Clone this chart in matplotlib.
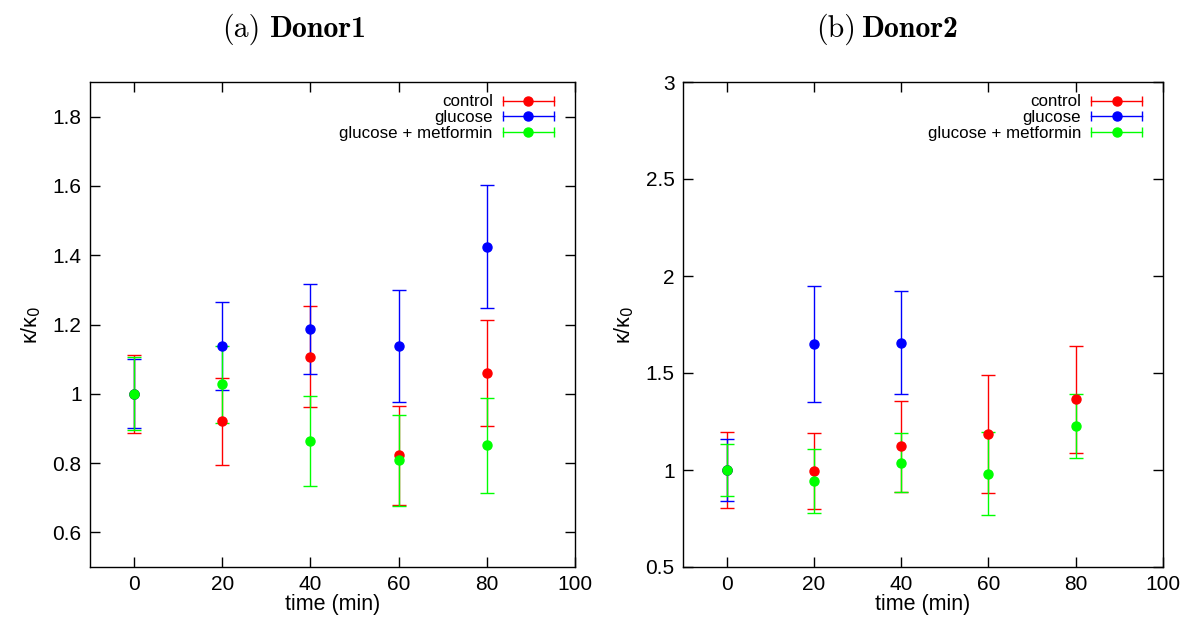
import matplotlib
matplotlib.use("Agg")
import matplotlib.pyplot as plt
from matplotlib.lines import Line2D
from matplotlib.legend_handler import HandlerBase

plt.rcParams['font.family'] = ['Liberation Sans', 'DejaVu Sans']

time = [0, 20, 40, 60, 80]
series_names = ["control", "glucose", "glucose + metformin"]
colors = ["#ff0000", "#0000ff", "#00ff00"]

# Donor1
d1_control = [1.000, 0.921, 1.107, 0.822, 1.060]
d1_control_err = [0.112, 0.126, 0.146, 0.143, 0.152]
d1_glucose = [1.000, 1.138, 1.187, 1.139, 1.425]
d1_glucose_err = [0.099, 0.127, 0.130, 0.162, 0.178]
d1_metformin = [1.000, 1.027, 0.865, 0.808, 0.851]
d1_metformin_err = [0.105, 0.111, 0.130, 0.131, 0.136]

# Donor2
d2_time_glucose = [0, 20, 40]
d2_control = [1.000, 0.995, 1.122, 1.184, 1.364]
d2_control_err = [0.197, 0.194, 0.236, 0.304, 0.275]
d2_glucose = [1.000, 1.651, 1.657]
d2_glucose_err = [0.162, 0.299, 0.265]
d2_metformin = [1.000, 0.943, 1.038, 0.981, 1.227]
d2_metformin_err = [0.135, 0.163, 0.152, 0.213, 0.164]


class HErr(HandlerBase):
    def create_artists(self, legend, orig_handle, xdescent, ydescent,
                       width, height, fontsize, trans):
        c = orig_handle.get_color()
        y = height / 2 - ydescent
        x0, x1 = -xdescent, -xdescent + width
        line = Line2D([x0, x1], [y, y], color=c, lw=1)
        caps = Line2D([x0, x1], [y, y], ls='none', marker='|', ms=7,
                      mew=1, color=c)
        dot = Line2D([(x0 + x1) / 2], [y], ls='none', marker='o', ms=6.5,
                     color=c)
        for a in (line, caps, dot):
            a.set_transform(trans)
        return [line, caps, dot]


W, H = 1192, 621
fig = plt.figure(figsize=(W / 100, H / 100), dpi=100)
ax1 = fig.add_axes([90 / W, 54 / H, 485 / W, 485 / H])
ax2 = fig.add_axes([683 / W, 54 / H, 480 / W, 485 / H])


def draw(ax, data):
    for (x, y, e), c in zip(data, colors):
        ax.errorbar(x, y, yerr=e, fmt='o', color=c, ms=6.5, elinewidth=1,
                    capsize=5, capthick=1, ecolor=c)


draw(ax1, [(time, d1_control, d1_control_err),
           (time, d1_glucose, d1_glucose_err),
           (time, d1_metformin, d1_metformin_err)])
draw(ax2, [(time, d2_control, d2_control_err),
           (d2_time_glucose, d2_glucose, d2_glucose_err),
           (time, d2_metformin, d2_metformin_err)])

ax1.set_xlim(-10, 100)
ax1.set_ylim(0.5, 1.9)
ax1.set_yticks([0.6, 0.8, 1.0, 1.2, 1.4, 1.6, 1.8])
ax1.set_yticklabels(["0.6", "0.8", "1", "1.2", "1.4", "1.6", "1.8"])
ax2.set_xlim(-10, 100)
ax2.set_ylim(0.5, 3.0)
ax2.set_yticks([0.5, 1.0, 1.5, 2.0, 2.5, 3.0])
ax2.set_yticklabels(["0.5", "1", "1.5", "2", "2.5", "3"])

for ax in (ax1, ax2):
    ax.set_xticks([0, 20, 40, 60, 80, 100])
    ax.tick_params(direction='in', top=True, right=True, length=7,
                   width=1, labelsize=15, pad=6)
    for s in ax.spines.values():
        s.set_linewidth(1)
    ax.set_xlabel("time (min)", fontsize=15.5, labelpad=0)
    ax.set_ylabel("κ/κ$_0$", fontsize=15.5, labelpad=7)
    handles = [Line2D([], [], color=c) for c in colors]
    ax.legend(handles, series_names, loc='upper right', frameon=False,
              markerfirst=False, fontsize=12.2, handlelength=3.0,
              handletextpad=0.6, labelspacing=0.03, borderpad=0,
              borderaxespad=0,
              bbox_to_anchor=(1 - 21 / 480, 1 - 12.5 / 485),
              handler_map={Line2D: HErr()})

base_y = 1 - 37 / H
fig.text(222 / W, base_y, "(a)", fontfamily='cmr10', fontsize=21.5,
         ha='left', va='baseline')
fig.text(270 / W, base_y, "Donor1", fontfamily='cmb10', fontsize=21.5,
         ha='left', va='baseline')
fig.text(816 / W, base_y, "(b)", fontfamily='cmr10', fontsize=21.5,
         ha='left', va='baseline')
fig.text(862 / W, base_y, "Donor2", fontfamily='cmb10', fontsize=21.5,
         ha='left', va='baseline')

fig.savefig("out.png", dpi=100)
